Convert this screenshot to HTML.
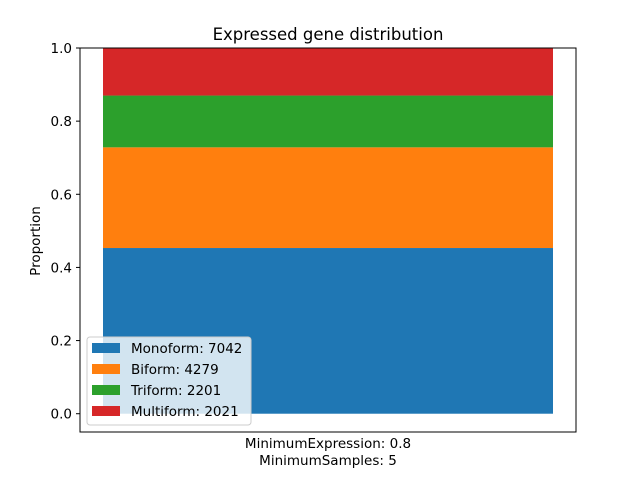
<!DOCTYPE html>
<html><head><meta charset="utf-8"><style>
body{margin:0;background:#fff;}
svg text{font-family:"DejaVu Sans","Liberation Sans",sans-serif;}
</style></head><body>
<svg id="chart" width="640" height="480" xmlns="http://www.w3.org/2000/svg">
<rect width="640" height="480" fill="#fff"/>
<text x="328" y="40" font-size="16.5" text-anchor="middle">Expressed gene distribution</text>
<g id="bars"></g>
<rect x="80" y="48" width="496" height="384" fill="none" stroke="#000" stroke-width="1"/>
<g id="yticks"></g>
<text transform="translate(40,241) rotate(-90)" font-size="13.5" text-anchor="middle">Proportion</text>
<text x="328" y="448" font-size="13.5" text-anchor="middle">MinimumExpression: 0.8</text>
<text x="328" y="465" font-size="13.5" text-anchor="middle">MinimumSamples: 5</text>
<g id="legend"></g>
</svg>
<script>
const categories=["Monoform","Biform","Triform","Multiform"];
const counts=[7042,4279,2201,2021];
const colors=["#1f77b4","#ff7f0e","#2ca02c","#d62728"];
const yTicks=[0,0.2,0.4,0.6,0.8,1.0];
const NS="http://www.w3.org/2000/svg";
function y(v){return 432-(v+0.05)/1.05*384;}
const total=counts.reduce((a,b)=>a+b,0);
const bars=document.getElementById('bars');
let cum=0;
counts.forEach((c,i)=>{
  const p=c/total;
  const r=document.createElementNS(NS,'rect');
  r.setAttribute('x',103);r.setAttribute('width',450);
  r.setAttribute('y',y(cum+p));r.setAttribute('height',y(cum)-y(cum+p));
  r.setAttribute('fill',colors[i]);
  
  
  bars.appendChild(r);cum+=p;
});
const yt=document.getElementById('yticks');
yTicks.forEach(t=>{
  const l=document.createElementNS(NS,'line');
  l.setAttribute('x1',76);l.setAttribute('x2',80);l.setAttribute('y1',y(t));l.setAttribute('y2',y(t));l.setAttribute('stroke','#000');
  
  
  yt.appendChild(l);
  const tx=document.createElementNS(NS,'text');
  tx.setAttribute('x',72);tx.setAttribute('y',y(t)+5);tx.setAttribute('font-size','13.5');tx.setAttribute('text-anchor','end');
  tx.textContent=t.toFixed(1);
  
  
  yt.appendChild(tx);
});
const lg=document.getElementById('legend');
const box=document.createElementNS(NS,'rect');
box.setAttribute('x',87);box.setAttribute('y',337);box.setAttribute('width',164);box.setAttribute('height',88);box.setAttribute('rx',3);
box.setAttribute('fill','rgba(255,255,255,0.8)');box.setAttribute('stroke','#ccc');


lg.appendChild(box);
categories.forEach((c,i)=>{
  const yy=348+i*21;
  const s=document.createElementNS(NS,'rect');
  s.setAttribute('x',92);s.setAttribute('y',yy-5);s.setAttribute('width',28);s.setAttribute('height',10);s.setAttribute('fill',colors[i]);
  
  
  lg.appendChild(s);
  const t=document.createElementNS(NS,'text');
  t.setAttribute('x',131);t.setAttribute('y',yy+5);t.setAttribute('font-size','13.5');
  t.textContent=c+': '+counts[i];
  
  
  lg.appendChild(t);
});
</script>
</body></html>
